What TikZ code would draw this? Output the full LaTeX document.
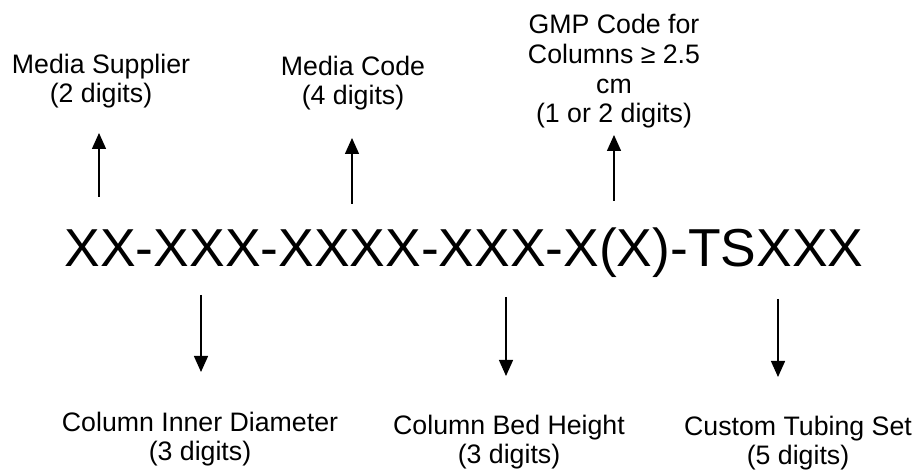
\documentclass[tikz,border=0pt]{standalone}
\usepackage{fontspec}
\setmainfont{Liberation Sans}
\usetikzlibrary{arrows.meta}

\begin{document}
\begin{tikzpicture}[
    lbl/.style={align=center, anchor=base, inner sep=0pt, font=\fontsize{15.2}{17}\selectfont},
    ptr/.style={line width=0.8pt, -{Triangle[width=0.28cm, length=0.32cm]}}]
  \useasboundingbox (0, 0) rectangle (18.34, 9.48);
  \node[anchor=base, inner sep=0pt, font=\fontsize{30.4}{36}\selectfont] (code) at (9.28, 4.14) {XX-XXX-XXXX-XXX-X(X)-TSXXX};
  \node[lbl] (supplier) at (2.02, 7.42) {Media Supplier\\(2 digits)};
  \node[lbl] (media) at (7.06, 7.38) {Media Code\\(4 digits)};
  \node[lbl] (gmp) at (12.28, 7.02) {GMP Code for\\Columns ≥ 2.5\\cm\\(1 or 2 digits)};
  \node[lbl] (diameter) at (4.00, 0.26) {Column Inner Diameter\\(3 digits)};
  \node[lbl] (bed) at (10.18, 0.20) {Column Bed Height\\(3 digits)};
  \node[lbl] (tubing) at (15.96, 0.18) {Custom Tubing Set\\(5 digits)};
  \coordinate (supplier-from) at (1.98, 5.54);
  \coordinate (supplier-to) at (1.98, 6.82);
  \coordinate (media-from) at (7.04, 5.40);
  \coordinate (media-to) at (7.04, 6.72);
  \coordinate (gmp-from) at (12.28, 5.46);
  \coordinate (gmp-to) at (12.28, 6.78);
  \coordinate (diameter-from) at (4.02, 3.58);
  \coordinate (diameter-to) at (4.02, 2.04);
  \coordinate (bed-from) at (10.12, 3.54);
  \coordinate (bed-to) at (10.12, 1.96);
  \coordinate (tubing-from) at (15.56, 3.50);
  \coordinate (tubing-to) at (15.56, 1.94);
  \draw[ptr] (supplier-from) -- (supplier-to);
  \draw[ptr] (media-from) -- (media-to);
  \draw[ptr] (gmp-from) -- (gmp-to);
  \draw[ptr] (diameter-from) -- (diameter-to);
  \draw[ptr] (bed-from) -- (bed-to);
  \draw[ptr] (tubing-from) -- (tubing-to);
\end{tikzpicture}
\end{document}
